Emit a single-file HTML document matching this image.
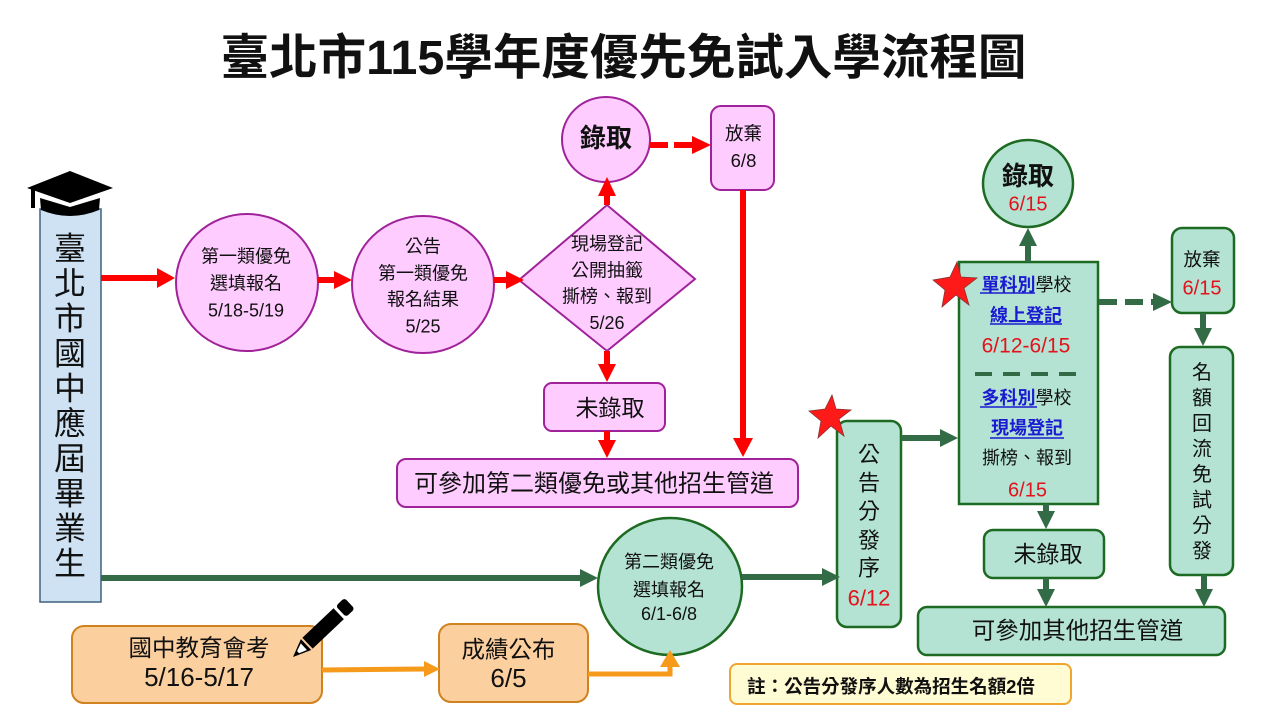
<!DOCTYPE html>
<html><head><meta charset="utf-8"><style>
html,body{margin:0;padding:0;background:#fff;}
svg{display:block;}
text{font-family:"Liberation Sans","Noto Sans CJK TC",sans-serif;fill:#111;}
</style></head><body>
<svg width="1280" height="720" viewBox="0 0 1280 720" xmlns="http://www.w3.org/2000/svg">
<rect width="1280" height="720" fill="#fff"/>
<!-- Title -->
<text x="623.5" y="74" text-anchor="middle" font-size="48.5" font-weight="bold" fill="#111">臺北市115學年度優先免試入學流程圖</text>

<!-- Left box -->
<rect x="40" y="209" width="61" height="393" fill="#cfe2f3" stroke="#40617f" stroke-width="1.5"/>
<g font-size="32" text-anchor="middle">
<text x="70" y="259.5">臺</text><text x="70" y="294.5">北</text><text x="70" y="329.5">市</text><text x="70" y="364.5">國</text><text x="70" y="399.5">中</text><text x="70" y="434.5">應</text><text x="70" y="469.5">屆</text><text x="70" y="504.5">畢</text><text x="70" y="539.5">業</text><text x="70" y="574.5">生</text>
</g>
<!-- Graduation cap -->
<path d="M40,198 L70,207 L100,198 L99,210 Q70,222 41,210 Z" fill="#000"/>
<polygon points="27,188 70,171 113,188 70,203" fill="#000"/>
<rect x="31" y="188" width="4" height="20" fill="#000"/>

<!-- Pink nodes -->
<g fill="#ffccff" stroke="#a0229a" stroke-width="2">
<ellipse cx="247" cy="282.5" rx="71" ry="68.5"/>
<ellipse cx="423" cy="284.5" rx="71" ry="68.5"/>
<polygon points="519,280 607,205 695,279 607,351"/>
<ellipse cx="606" cy="139.5" rx="44" ry="42.5"/>
<rect x="711" y="106" width="63" height="84" rx="10"/>
<rect x="544" y="383" width="121" height="48" rx="8"/>
<rect x="397" y="459" width="401" height="48" rx="9"/>
</g>
<g font-size="18" text-anchor="middle">
<text x="246" y="262.5">第一類優免</text>
<text x="246" y="289.5">選填報名</text>
<text x="246" y="316.5">5/18-5/19</text>
<text x="423" y="252.5">公告</text>
<text x="423" y="279.5">第一類優免</text>
<text x="423" y="305.5">報名結果</text>
<text x="423" y="332.5">5/25</text>
<text x="607" y="250">現場登記</text>
<text x="607" y="276.5">公開抽籤</text>
<text x="607" y="302.5">撕榜、報到</text>
<text x="607" y="329">5/26</text>
<text x="743.5" y="140" font-size="18.5">放棄</text>
<text x="743.5" y="167" font-size="18.5">6/8</text>
</g>
<text x="606" y="147" font-size="26" font-weight="bold" text-anchor="middle">錄取</text>
<text x="610" y="416" font-size="23" text-anchor="middle">未錄取</text>
<text x="594" y="491.5" font-size="24" text-anchor="middle">可參加第二類優免或其他招生管道</text>

<!-- Red arrows -->
<g stroke="#ff0000" stroke-width="6" fill="none">
<line x1="101" y1="278" x2="160" y2="278"/>
<line x1="318" y1="280" x2="337" y2="280"/>
<line x1="494" y1="280" x2="508" y2="280"/>
<line x1="607" y1="205" x2="607" y2="194"/>
<line x1="650" y1="145" x2="668" y2="145"/>
<line x1="674" y1="145" x2="692" y2="145"/>
<line x1="743" y1="190" x2="743" y2="440"/>
<line x1="607" y1="351" x2="607" y2="366"/>
<line x1="607" y1="431" x2="607" y2="442"/>
</g>
<g fill="#ff0000">
<polygon points="157,268 175,278 157,288"/>
<polygon points="334,271 352,280 334,289"/>
<polygon points="506,271 524,280 506,289"/>
<polygon points="598,196 607,177 616,196"/>
<polygon points="692,136 711,145 692,154"/>
<polygon points="733,438 743,457 753,438"/>
<polygon points="598,364 607,382 616,364"/>
<polygon points="598,440 607,458 616,440"/>
</g>

<!-- Green nodes -->
<g fill="#b4e3d3" stroke="#1d6a22" stroke-width="2.5">
<ellipse cx="670" cy="586.5" rx="72" ry="68.5"/>
<rect x="837" y="421" width="64" height="206" rx="10"/>
<rect x="959" y="262" width="139" height="242"/>
<ellipse cx="1028" cy="183.5" rx="45" ry="43.5"/>
<rect x="1172" y="228" width="62" height="85" rx="10"/>
<rect x="1170" y="347" width="63" height="228" rx="10"/>
<rect x="984" y="530" width="120" height="48" rx="9"/>
<rect x="918" y="607" width="307" height="48" rx="9"/>
</g>
<g font-size="18" text-anchor="middle">
<text x="669" y="568">第二類優免</text>
<text x="669" y="596">選填報名</text>
<text x="669" y="620">6/1-6/8</text>
</g>
<g font-size="22" text-anchor="middle">
<text x="869" y="462">公</text>
<text x="869" y="490.5">告</text>
<text x="869" y="519">分</text>
<text x="869" y="548">發</text>
<text x="869" y="575.5">序</text>
<text x="869" y="605.5" style="fill:#e3121b">6/12</text>
</g>
<!-- green rect content -->
<text x="1026.5" y="291" font-size="18" text-anchor="middle"><tspan font-weight="bold" style="fill:#1a1ad2">單科別</tspan>學校</text>
<line x1="980" y1="293" x2="1035" y2="293" stroke="#1a1ad2" stroke-width="1.5"/>
<text x="1026" y="321.5" font-size="18" font-weight="bold" text-anchor="middle" style="fill:#1a1ad2">線上登記</text>
<line x1="990" y1="324" x2="1062" y2="324" stroke="#1a1ad2" stroke-width="1.5"/>
<text x="1026" y="352.5" font-size="21" text-anchor="middle" style="fill:#e3121b">6/12-6/15</text>
<line x1="975" y1="374" x2="1077" y2="374" stroke="#336b46" stroke-width="4" stroke-dasharray="17 11"/>
<text x="1026.5" y="404" font-size="18" text-anchor="middle"><tspan font-weight="bold" style="fill:#1a1ad2">多科別</tspan>學校</text>
<line x1="980" y1="407" x2="1037" y2="407" stroke="#1a1ad2" stroke-width="1.5"/>
<text x="1027" y="434" font-size="18" font-weight="bold" text-anchor="middle" style="fill:#1a1ad2">現場登記</text>
<line x1="990" y1="438" x2="1064" y2="438" stroke="#1a1ad2" stroke-width="1.5"/>
<text x="1027" y="464" font-size="18" text-anchor="middle">撕榜、報到</text>
<text x="1027.5" y="496.5" font-size="20" text-anchor="middle" style="fill:#e3121b">6/15</text>
<!-- green circle top -->
<text x="1028" y="185" font-size="26" font-weight="bold" text-anchor="middle">錄取</text>
<text x="1028" y="210.5" font-size="20" text-anchor="middle" style="fill:#e3121b">6/15</text>
<!-- 放棄 green -->
<text x="1202" y="266" font-size="18.5" text-anchor="middle">放棄</text>
<text x="1202" y="294.5" font-size="20" text-anchor="middle" style="fill:#e3121b">6/15</text>
<!-- 名額回流免試分發 -->
<g font-size="20" text-anchor="middle">
<text x="1202" y="379">名</text>
<text x="1202" y="404.5">額</text>
<text x="1202" y="430">回</text>
<text x="1202" y="455.5">流</text>
<text x="1202" y="481">免</text>
<text x="1202" y="506.5">試</text>
<text x="1202" y="532">分</text>
<text x="1202" y="557.5">發</text>
</g>
<text x="1048" y="562" font-size="23" text-anchor="middle">未錄取</text>
<text x="1077.5" y="638.5" font-size="23.5" text-anchor="middle">可參加其他招生管道</text>

<!-- Green arrows -->
<g stroke="#336b46" stroke-width="6" fill="none">
<line x1="101" y1="578" x2="582" y2="578"/>
<line x1="742" y1="577" x2="824" y2="577"/>
<line x1="901" y1="438" x2="942" y2="438"/>
<line x1="1028" y1="262" x2="1028" y2="245"/>
<line x1="1099" y1="302" x2="1153" y2="302" stroke-dasharray="18 8"/>
<line x1="1203" y1="313" x2="1203" y2="330"/>
<line x1="1046" y1="504" x2="1046" y2="513"/>
<line x1="1046" y1="578" x2="1046" y2="591"/>
<line x1="1204" y1="575" x2="1204" y2="591"/>
</g>
<g fill="#336b46">
<polygon points="580,569 598,578 580,587"/>
<polygon points="822,568 840,577 822,586"/>
<polygon points="940,429 958,438 940,447"/>
<polygon points="1019,246 1028,228 1037,246"/>
<polygon points="1153,293 1172,302 1153,311"/>
<polygon points="1194,328 1203,346 1212,328"/>
<polygon points="1037,511 1046,529 1055,511"/>
<polygon points="1037,589 1046,607 1055,589"/>
<polygon points="1195,589 1204,607 1213,589"/>
</g>

<!-- Stars -->
<polygon points="832,395 836,409 851,410 839,419 844,436 831,426 818,438 821,421 809,411 825,409" fill="#ff1a1a" stroke="#883333" stroke-width="0.8"/>
<polygon points="957,262 961,277 977,278 964,288 969,305 956,295 942,307 945,290 933,280 950,277" fill="#ff1a1a" stroke="#883333" stroke-width="0.8"/>

<!-- Orange boxes -->
<g fill="#fccf9f" stroke="#d0821f" stroke-width="2">
<rect x="72" y="626" width="250" height="77" rx="12"/>
<rect x="439" y="624" width="149" height="78" rx="12"/>
</g>
<text x="199" y="656" font-size="23.5" text-anchor="middle">國中教育會考</text>
<text x="199" y="686" font-size="26" text-anchor="middle">5/16-5/17</text>
<text x="508.5" y="657.5" font-size="23.5" text-anchor="middle">成績公布</text>
<text x="508.5" y="687" font-size="26" text-anchor="middle">6/5</text>

<!-- Orange arrows -->
<g stroke="#f59a1a" stroke-width="5" fill="none">
<line x1="322" y1="670" x2="426" y2="669"/>
<polyline points="588,674 670,674 670,665"/>
</g>
<g fill="#f59a1a">
<polygon points="424,661 440,669 424,677"/>
<polygon points="660,667 670,650 680,667"/>
</g>

<!-- Pencil -->
<g transform="translate(293,657) rotate(-43.5)">
<polygon points="0,0 18,-7.5 18,7.5" fill="#000"/>
<polygon points="7,-1.5 15,-4.5 15,4.5 7,1.5" fill="#fff"/>
<rect x="20" y="-7.5" width="43" height="15" fill="#000"/>
<rect x="66" y="-7.5" width="12" height="15" rx="3" fill="#000"/>
</g>

<!-- Note -->
<rect x="730" y="664" width="341" height="40" rx="7" fill="#fffbd2" stroke="#f0a530" stroke-width="2"/>
<text x="891" y="693" font-size="18.5" font-weight="bold" text-anchor="middle">註：公告分發序人數為招生名額2倍</text>
</svg>
</body></html>
